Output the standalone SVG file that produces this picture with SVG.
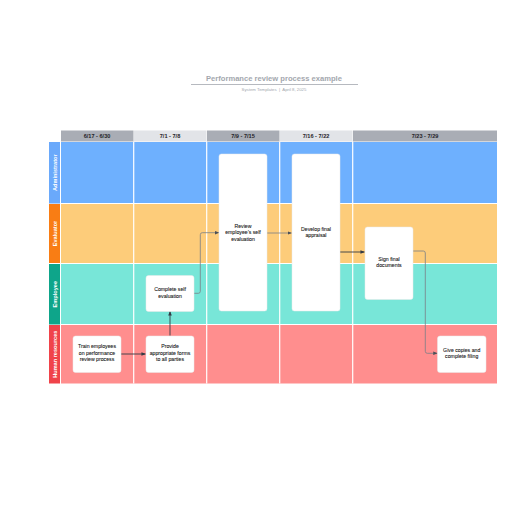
<svg xmlns="http://www.w3.org/2000/svg" width="516" height="516" viewBox="0 0 516 516">
<defs>
<style>
.hd{fill:#a9adb5}
.hl{fill:#e2e4e8}
.ht{font-family:"Liberation Sans",Arial,sans-serif;font-size:5.6px;font-weight:bold;fill:#1f2328;text-anchor:middle}
.lt{font-family:"Liberation Sans",Arial,sans-serif;font-size:5.6px;font-weight:bold;fill:#ffffff;text-anchor:middle}
.nd{fill:#ffffff;stroke:#e8e8e8;stroke-width:0.5}
.nt{font-family:"Liberation Sans",Arial,sans-serif;font-size:5.2px;fill:#111111;text-anchor:middle;stroke:#111111;stroke-width:0.08}
.sep{stroke:#ffffff;stroke-width:1.2}
.cd{fill:none;stroke:#333a44;stroke-width:0.9}
.cg{fill:none;stroke:#7a7f87;stroke-width:0.8}
</style>
<marker id="ad" viewBox="0 0 10 10" refX="9" refY="5" markerWidth="5" markerHeight="5" orient="auto" markerUnits="strokeWidth"><path d="M0,1 L10,5 L0,9 z" fill="#333a44"/></marker>
<marker id="ag" viewBox="0 0 10 10" refX="9" refY="5" markerWidth="5.5" markerHeight="5.5" orient="auto" markerUnits="strokeWidth"><path d="M0,1 L10,5 L0,9 z" fill="#4a4f57"/></marker>
</defs>
<rect width="516" height="516" fill="#ffffff"/>
<g id="title">
<text x="274" y="81" font-family="'Liberation Sans',Arial,sans-serif" font-size="7.6" font-weight="bold" fill="#a3a7ae" text-anchor="middle">Performance review process example</text>
<line x1="191" y1="84.5" x2="358" y2="84.5" stroke="#a3a7ae" stroke-width="0.8"/>
<text x="274" y="91" font-family="'Liberation Sans',Arial,sans-serif" font-size="4.3" fill="#a3a7ae" text-anchor="middle" xml:space="preserve" style="white-space:pre">System Templates  |  April 8, 2025</text>
</g>
<g id="header">
<rect class="hd" x="61" y="130.5" width="72.5" height="11"/>
<rect class="hl" x="134" y="130.5" width="72.5" height="11"/>
<rect class="hd" x="207" y="130.5" width="72.5" height="11"/>
<rect class="hl" x="280" y="130.5" width="72.5" height="11"/>
<rect class="hd" x="353" y="130.5" width="144" height="11"/>
<text class="ht" x="97" y="138">6/17 - 6/30</text>
<text class="ht" x="170" y="138">7/1 - 7/8</text>
<text class="ht" x="243" y="138">7/9 - 7/15</text>
<text class="ht" x="316" y="138">7/16 - 7/22</text>
<text class="ht" x="425" y="138">7/23 - 7/29</text>
</g>
<g id="lanes">
<rect x="61" y="142" width="436" height="61.5" fill="#6eb0fe"/>
<rect x="61" y="204" width="436" height="59" fill="#fdcc7a"/>
<rect x="61" y="264" width="436" height="60.5" fill="#78e6d8"/>
<rect x="61" y="325" width="436" height="58.5" fill="#ff8e8e"/>
<line class="sep" x1="61" y1="203.5" x2="497" y2="203.5"/>
<line class="sep" x1="61" y1="263.5" x2="497" y2="263.5"/>
<line class="sep" x1="61" y1="324.5" x2="497" y2="324.5"/>
<line class="sep" x1="133.7" y1="142" x2="133.7" y2="383.5"/>
<line class="sep" x1="206.7" y1="142" x2="206.7" y2="383.5"/>
<line class="sep" x1="279.7" y1="142" x2="279.7" y2="383.5"/>
<line class="sep" x1="352.7" y1="142" x2="352.7" y2="383.5"/>
</g>
<g id="lane-admin">
<rect x="49" y="142" width="11" height="61.5" fill="#6aa9fb"/>
<text class="lt" transform="translate(56.5,172.7) rotate(-90)">Administrator</text>
</g>
<g id="lane-evaluator">
<rect x="49" y="204" width="11" height="59" fill="#f97d14"/>
<text class="lt" transform="translate(56.5,233.5) rotate(-90)">Evaluator</text>
</g>
<g id="lane-employee">
<rect x="49" y="264" width="11" height="60.5" fill="#0ea58a"/>
<text class="lt" transform="translate(56.5,294.2) rotate(-90)">Employee</text>
</g>
<g id="lane-hr">
<rect x="49" y="325" width="11" height="58.5" fill="#f0434a"/>
<text class="lt" transform="translate(56.5,354.2) rotate(-90)">Human resources</text>
</g>
<g id="connectors">
<path class="cd" d="M121,354 L145.5,354" marker-end="url(#ad)"/>
<path class="cd" d="M170,335.7 L170,311.5" marker-end="url(#ad)"/>
<path class="cg" d="M194,293.3 L198.3,293.3 Q200.3,293.3 200.3,291.3 L200.3,234.7 Q200.3,232.7 202.3,232.7 L218.8,232.7" marker-end="url(#ag)"/>
<path class="cg" d="M267,233 L291.5,233" marker-end="url(#ag)"/>
<path class="cd" d="M340,252 L364.5,252" marker-end="url(#ad)"/>
<path class="cg" d="M412.7,251 L423.3,251 Q425.3,251 425.3,253 L425.3,351.3 Q425.3,353.3 427.3,353.3 L437.2,353.3" marker-end="url(#ag)"/>
</g>
<g id="n-review">
<rect class="nd" x="219" y="154" width="48" height="157" rx="2.5"/>
<text class="nt" x="243" y="227.5">Review</text>
<text class="nt" x="243" y="234">employee’s self</text>
<text class="nt" x="243" y="240.5">evaluation</text>
</g>
<g id="n-develop">
<rect class="nd" x="292" y="154" width="48" height="157" rx="2.5"/>
<text class="nt" x="316" y="230.5">Develop final</text>
<text class="nt" x="316" y="237">appraisal</text>
</g>
<g id="n-sign">
<rect class="nd" x="365" y="227" width="48" height="72.5" rx="2.5"/>
<text class="nt" x="389" y="260.5">Sign final</text>
<text class="nt" x="389" y="267">documents</text>
</g>
<g id="n-complete">
<rect class="nd" x="146" y="275.5" width="48" height="36" rx="2.5"/>
<text class="nt" x="170" y="291">Complete self</text>
<text class="nt" x="170" y="297.5">evaluation</text>
</g>
<g id="n-train">
<rect class="nd" x="73" y="336" width="48" height="36.5" rx="2.5"/>
<text class="nt" x="97" y="348">Train employees</text>
<text class="nt" x="97" y="354.5">on performance</text>
<text class="nt" x="97" y="361">review process</text>
</g>
<g id="n-provide">
<rect class="nd" x="146" y="336" width="48" height="36.5" rx="2.5"/>
<text class="nt" x="170" y="348">Provide</text>
<text class="nt" x="170" y="354.5">appropriate forms</text>
<text class="nt" x="170" y="361">to all parties</text>
</g>
<g id="n-give">
<rect class="nd" x="437.5" y="336" width="48.5" height="36.5" rx="2.5"/>
<text class="nt" x="461.7" y="351.5">Give copies and</text>
<text class="nt" x="461.7" y="358">complete filing</text>
</g>
</svg>
